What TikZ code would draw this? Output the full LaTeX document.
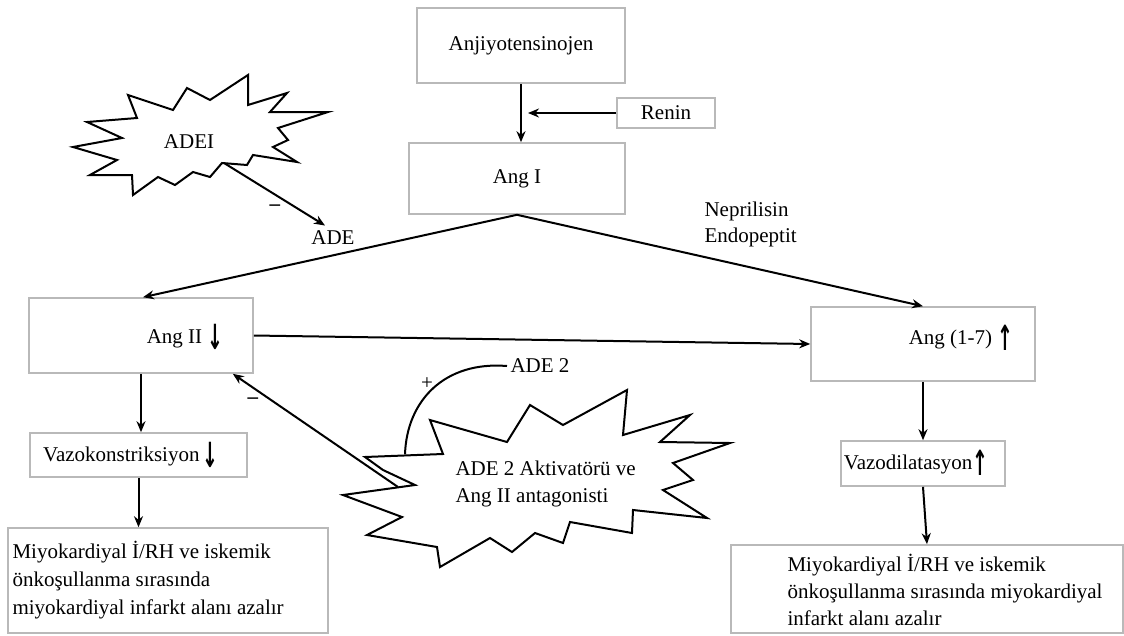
\documentclass[tikz,border=0pt]{standalone}
\usepackage{fontspec}
\setmainfont{Liberation Serif}
\newfontfamily\okfont{DejaVu Sans}
\usetikzlibrary{arrows.meta}
\newcommand{\asagi}{\raisebox{-0.3em}{\scalebox{0.9}[1.65]{\okfont\bfseries ↓}}}
\newcommand{\yukari}{\raisebox{-0.3em}{\scalebox{0.9}[1.65]{\okfont\bfseries ↑}}}
\tikzset{
  kutu/.style={draw=gray!55, line width=1.6pt, inner sep=0pt},
  yazi/.style={font=\fontsize{21}{28}\selectfont},
  ok/.style={->, line width=2pt},
  yildiz/.style={line width=2pt, line join=miter},
}
\begin{document}
\begin{tikzpicture}[x=1pt, y=-1pt, >={Stealth[length=11pt,width=9pt]}]
  \useasboundingbox (0,0) rectangle (1124,635);

  % ust kisim
  \node[kutu, yazi, minimum width=208pt, minimum height=75pt] (anj) at (521,45.5) {Anjiyotensinojen};
  \node[kutu, yazi, minimum width=98pt, minimum height=30pt] (renin) at (666,113) {Renin};
  \node[kutu, yazi, minimum width=216pt, minimum height=71pt] (angI) at (517,178.5) {Ang I};
  \draw[ok] (anj.south) -- (anj.south |- angI.north);
  \draw[ok, shorten >=7pt] (renin.west) -- (anj.south |- renin.west);

  % sol kol
  \node[kutu, minimum width=224pt, minimum height=75pt] (angII) at (141,335.5) {};
  \node[yazi] (angIIyazi) at (185,337) {Ang II \asagi};
  \node[kutu, minimum width=217pt, minimum height=44pt] (vazoK) at (138.5,455) {};
  \node[yazi] (vazoKyazi) at (131,455) {Vazokonstriksiyon\,\asagi};
  \node[kutu, minimum width=320pt, minimum height=105pt] (solalt) at (168,580.5) {};
  \node[yazi, align=left, anchor=west] (solaltyazi) at (9,580) {Miyokardiyal İ/RH ve iskemik\\önkoşullanma sırasında\\miyokardiyal infarkt alanı azalır};

  % sag kol
  \node[kutu, minimum width=224pt, minimum height=74pt] (ang17) at (923,344) {};
  \node[yazi] (ang17yazi) at (961,338) {Ang (1-7) \yukari};
  \node[kutu, minimum width=164pt, minimum height=45pt] (vazoD) at (923,463.5) {};
  \node[yazi] (vazoDyazi) at (916,463) {Vazodilatasyon\yukari};
  \node[kutu, minimum width=392pt, minimum height=88pt] (sagalt) at (927,589) {};
  \node[yazi, align=left, anchor=west, font=\fontsize{21}{27}\selectfont] (sagaltyazi) at (784,590) {Miyokardiyal İ/RH ve iskemik\\önkoşullanma sırasında miyokardiyal\\infarkt alanı azalır};

  % Ang I den ayrilan oklar
  \draw[ok] (angI.south) -- ([xshift=2pt]angII.north);
  \draw[ok] (angI.south) -- (ang17.north);
  \node[yazi] (ade) at (333,238) {ADE};
  \node[yazi, align=left, anchor=west, font=\fontsize{21}{26}\selectfont] (nep) at (701,224) {Neprilisin\\Endopeptit};
  \draw[ok] (angII.east) -- (ang17.west);

  % dikey oklar
  \draw[ok] (angII.south) -- (angII.south |- vazoK.north);
  \draw[ok] (vazoK.south) -- (vazoK.south |- solalt.north);
  \draw[ok] (ang17.south) -- (ang17.south |- vazoD.north);
  \draw[ok] (vazoD.south) -- ([xshift=4pt]vazoD.south |- sagalt.north);

  % ADEI yildizi
  \draw[yildiz] (73,147) -- (122,138) -- (87,122) -- (137,118) -- (128,95) -- (173,110)
    -- (187,88) -- (210,100) -- (248,75) -- (248,105) -- (287,93) -- (270,112) -- (328,112)
    -- (278,128) -- (288,140) -- (273,147) -- (297,162) -- (253,155) -- (247,165) -- (222,163)
    -- (210,177) -- (193,172) -- (175,185) -- (158,177) -- (133,195) -- (132,175) -- (90,175)
    -- (117,160) -- cycle;
  \node[yazi] (adei) at (189,142) {ADEI};
  \coordinate (adeiuc) at (224,163);
  \draw[ok] (adeiuc) -- ([xshift=-8pt, yshift=2pt]ade.north);
  \node[yazi] (eksi1) at (275,208) {\textbf{–}};

  % ADE 2 yildizi
  \draw[yildiz] (365,457) -- (443,454) -- (430,420) -- (507,442) -- (530,405) -- (563,425)
    -- (627,390) -- (623,435) -- (690,415) -- (660,442) -- (730,443) -- (673,463) -- (693,480)
    -- (663,490) -- (707,518) -- (633,510) -- (632,533) -- (570,522) -- (563,543) -- (535,533)
    -- (512,552) -- (490,538) -- (440,567) -- (437,547) -- (367,535) -- (402,517) -- (343,495)
    -- (415,485) -- (383,470) -- cycle;
  \node[yazi, align=left, anchor=west, font=\fontsize{21}{27}\selectfont] (ade2akt) at (452,484) {ADE 2 Aktivatörü ve\\Ang II antagonisti};
  \coordinate (ade2sol) at (398,487);
  \draw[ok] (ade2sol) -- ([xshift=-21pt]angII.south east);
  \node[yazi] (eksi2) at (253,401) {\textbf{–}};

  % ADE 2 ye giden yay
  \node[yazi, anchor=west] (ade2) at (507,366) {ADE 2};
  \coordinate (ade2ust) at (405,454);
  \draw[line width=2pt] (ade2ust) .. controls (407,400) and (445,361) .. (ade2.west);
  \node[yazi] (arti) at (427,384) {+};
\end{tikzpicture}
\end{document}
